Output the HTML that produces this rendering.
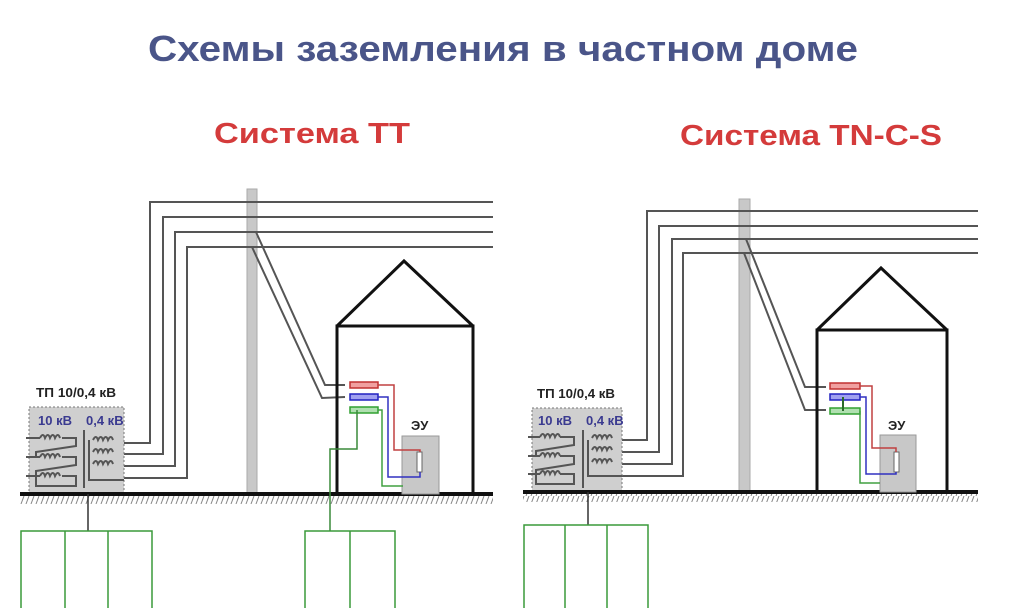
<!DOCTYPE html>
<html><head><meta charset="utf-8"><style>
html,body{margin:0;padding:0;background:#fff}
svg{display:block}
text{font-family:"Liberation Sans",Arial,sans-serif;font-weight:bold}
</style></head><body>
<svg width="1024" height="608" viewBox="0 0 1024 608" xmlns="http://www.w3.org/2000/svg">
<defs>
<pattern id="hatch" width="5" height="8" patternUnits="userSpaceOnUse">
<line x1="4" y1="0" x2="1" y2="8" stroke="#888" stroke-width="1"/>
</pattern>
</defs>
<text x="503" y="61" font-size="36" fill="#4a5589" text-anchor="middle" textLength="710" lengthAdjust="spacingAndGlyphs">Схемы заземления в частном доме</text>
<text x="312" y="143" font-size="29" fill="#d43b3b" text-anchor="middle" textLength="196" lengthAdjust="spacingAndGlyphs">Система ТТ</text>
<text x="811" y="145" font-size="29" fill="#d43b3b" text-anchor="middle" textLength="262" lengthAdjust="spacingAndGlyphs">Система TN-C-S</text>

<!-- LEFT PANEL -->
<g fill="none" stroke-linejoin="miter">
<rect x="247" y="189" width="10" height="305" fill="#c8c8c8" stroke="#aaa"/>
<g stroke="#555" stroke-width="2">
<polyline points="124,443 150,443 150,202 493,202"/>
<polyline points="124,454 163,454 163,217 493,217"/>
<polyline points="124,466 175,466 175,232 493,232"/>
<polyline points="124,478 187,478 187,247 493,247"/>
<polyline points="256,232 325,385 345,385"/>
<polyline points="252,247 322,398 345,397"/>
</g>
<rect x="29" y="407" width="95" height="87" fill="#cfcfcf" stroke="#777" stroke-dasharray="2,2"/>
<g stroke="#555" stroke-width="2">
<path d="M40,438 q3,-6 5,0 q3,-6 5,0 q3,-6 5,0 q3,-6 5,0 M40,457 q3,-6 5,0 q3,-6 5,0 q3,-6 5,0 q3,-6 5,0 M40,476 q3,-6 5,0 q3,-6 5,0 q3,-6 5,0 q3,-6 5,0"/>
<path d="M26,438 h14 M26,457 h14 M26,476 h14 M62,438 h14 v8 l-40,6 v5 M62,457 h14 v8 l-40,6 v5 M62,476 h14 v10 h-40 v-10"/>
<path d="M93,440 q3,-6 5,0 q3,-6 5,0 q3,-6 5,0 q3,-6 5,0 M93,452 q3,-6 5,0 q3,-6 5,0 q3,-6 5,0 q3,-6 5,0 M93,464 q3,-6 5,0 q3,-6 5,0 q3,-6 5,0 q3,-6 5,0"/>
<path d="M84,430 v58 M89,440 v40 h35"/>
</g>
<path d="M20,494 H493" stroke="#111" stroke-width="4"/>
<rect x="20" y="496" width="473" height="8" fill="url(#hatch)" stroke="none"/>
<path d="M88,494 V531" stroke="#333" stroke-width="1.5"/>
<path d="M21,608 V531 H152 V608 M65,531 V608 M108,531 V608" stroke="#3a9a3a" stroke-width="1.5"/>
<path d="M337,494 V326 H473 V494 M337,326 L404,261 L473,326" stroke="#111" stroke-width="3"/>
<rect x="402" y="436" width="37" height="58" fill="#c8c8c8" stroke="#999"/>
<rect x="417" y="452" width="5" height="20" fill="#fff" stroke="#666"/>
<rect x="350" y="382" width="28" height="6" fill="#f0a0a0" stroke="#c03030" stroke-width="1.5"/>
<rect x="350" y="394" width="28" height="6" fill="#a0a0f0" stroke="#2020c0" stroke-width="1.5"/>
<rect x="350" y="407" width="28" height="6" fill="#b0e0b0" stroke="#30a030" stroke-width="1.5"/>
<polyline points="378,385 394,385 394,450 420,450 420,452" stroke="#c04040" stroke-width="1.5"/>
<polyline points="378,397 388,397 388,477 420,477 420,472" stroke="#3030c0" stroke-width="1.5"/>
<polyline points="378,410 382,410 382,486 403,486" stroke="#40a040" stroke-width="1.5"/>
<polyline points="357,410 357,449 330,449 330,531" stroke="#3a8a3a" stroke-width="1.5"/>
<path d="M305,608 V531 H395 V608 M350,531 V608" stroke="#3a9a3a" stroke-width="1.5"/>
</g>
<text x="36" y="397" font-size="13" fill="#222" textLength="80" lengthAdjust="spacingAndGlyphs">ТП 10/0,4 кВ</text>
<text x="38" y="425" font-size="13" fill="#3a3a90">10 кВ</text>
<text x="86" y="425" font-size="13" fill="#3a3a90">0,4 кВ</text>
<text x="411" y="430" font-size="13" fill="#222">ЭУ</text>

<!-- RIGHT PANEL -->
<g fill="none">
<rect x="739" y="199" width="11" height="293" fill="#c8c8c8" stroke="#aaa"/>
<g stroke="#555" stroke-width="2">
<polyline points="622,440 647,440 647,211 978,211"/>
<polyline points="622,452 659,452 659,226 978,226"/>
<polyline points="622,464 672,464 672,239 978,239"/>
<polyline points="622,476 683,476 683,253 978,253"/>
<polyline points="746,239 805,387 826,387"/>
<polyline points="744,253 805,410 826,410"/>
</g>
<rect x="532" y="408" width="90" height="84" fill="#cfcfcf" stroke="#777" stroke-dasharray="2,2"/>
<g stroke="#555" stroke-width="2">
<path d="M540,437 q3,-6 5,0 q3,-6 5,0 q3,-6 5,0 q3,-6 5,0 M540,456 q3,-6 5,0 q3,-6 5,0 q3,-6 5,0 q3,-6 5,0 M540,474 q3,-6 5,0 q3,-6 5,0 q3,-6 5,0 q3,-6 5,0"/>
<path d="M528,437 h12 M528,456 h12 M528,474 h12 M560,437 h14 v8 l-38,6 v5 M560,456 h14 v8 l-38,6 v5 M560,474 h14 v10 h-38 v-10"/>
<path d="M592,438 q3,-6 5,0 q3,-6 5,0 q3,-6 5,0 q3,-6 5,0 M592,450 q3,-6 5,0 q3,-6 5,0 q3,-6 5,0 q3,-6 5,0 M592,462 q3,-6 5,0 q3,-6 5,0 q3,-6 5,0 q3,-6 5,0"/>
<path d="M583,430 v58 M588,440 v36 h34"/>
</g>
<path d="M523,492 H978" stroke="#111" stroke-width="4"/>
<rect x="523" y="494" width="455" height="8" fill="url(#hatch)" stroke="none"/>
<path d="M588,492 V525" stroke="#333" stroke-width="1.5"/>
<path d="M524,608 V525 H648 V608 M565,525 V608 M607,525 V608" stroke="#3a9a3a" stroke-width="1.5"/>
<path d="M817,492 V330 H947 V492 M817,330 L881,268 L947,330" stroke="#111" stroke-width="3"/>
<rect x="880" y="435" width="36" height="57" fill="#c8c8c8" stroke="#999"/>
<rect x="894" y="452" width="5" height="20" fill="#fff" stroke="#666"/>
<rect x="830" y="383" width="30" height="6" fill="#f0a0a0" stroke="#c03030" stroke-width="1.5"/>
<rect x="830" y="394" width="30" height="6" fill="#a0a0f0" stroke="#2020c0" stroke-width="1.5"/>
<rect x="830" y="408" width="30" height="6" fill="#b0e0b0" stroke="#30a030" stroke-width="1.5"/>
<path d="M843,397 V411" stroke="#2a6a2a" stroke-width="2"/>
<polyline points="860,386 872,386 872,448 896,448 896,452" stroke="#c04040" stroke-width="1.5"/>
<polyline points="860,397 866,397 866,474 896,474 896,472" stroke="#3030c0" stroke-width="1.5"/>
<polyline points="860,411 860,483 880,483" stroke="#40a040" stroke-width="1.5"/>
</g>
<text x="537" y="398" font-size="13" fill="#222" textLength="78" lengthAdjust="spacingAndGlyphs">ТП 10/0,4 кВ</text>
<text x="538" y="425" font-size="13" fill="#3a3a90">10 кВ</text>
<text x="586" y="425" font-size="13" fill="#3a3a90">0,4 кВ</text>
<text x="888" y="430" font-size="13" fill="#222">ЭУ</text>
</svg>
</body></html>
